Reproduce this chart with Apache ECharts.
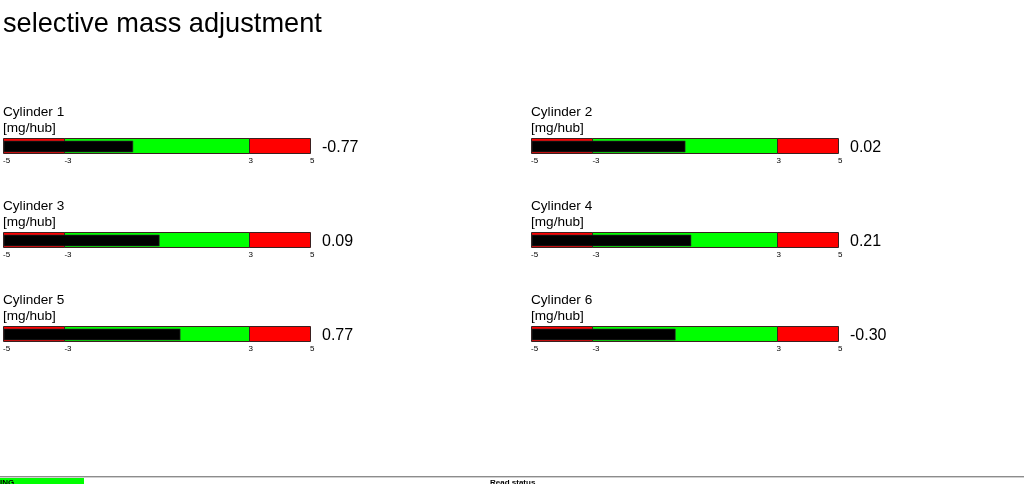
<!DOCTYPE html>
<html>
<head>
<meta charset="utf-8">
<script src="https://cdn.jsdelivr.net/npm/echarts@6/dist/echarts.min.js"></script>
<style>
html,body{margin:0;padding:0;background:#fff;}
#chart{width:1024px;height:484px;}
</style>
</head>
<body>
<div id="chart"></div>
<script>
// ---- data ----
const titleText = 'selective mass adjustment';
const cylinderNames = ['Cylinder 1', 'Cylinder 2', 'Cylinder 3', 'Cylinder 4', 'Cylinder 5', 'Cylinder 6'];
const unitText = '[mg/hub]';
const values = [-0.77, 0.02, 0.09, 0.21, 0.77, -0.30];
const zoneStart = [-5, -3, 3];
const zoneEnd = [-3, 3, 5];
const tickValues = [-5, -3, 3, 5];
const axisMin = -5;
const axisMax = 5;
const statusLeft = 'ING';
const statusCenter = 'Read status';

// ---- styles / layout ----
const FONT = '"Liberation Sans", Arial, sans-serif';
const zoneColors = ['#ff0000', '#00ff00', '#ff0000'];
const colLeft = [3, 531];
const rowTop = [138, 232, 326];
const gaugeW = 307, gaugeH = 16;

const grids = [], xAxes = [], yAxes = [], series = [], graphics = [];

graphics.push({type:'text', left: 3, top: 11, style:{text: titleText, font: '27.2px ' + FONT, fill:'#000'}});

cylinderNames.forEach((name, i) => {
  const col = i % 2, row = Math.floor(i / 2);
  const left = colLeft[col], top = rowTop[row];
  grids.push({left: left, top: top, width: gaugeW, height: gaugeH, containLabel:false, outerBoundsMode:'none'});
  xAxes.push({
    type:'value', gridIndex:i, min: axisMin, max: axisMax, interval: 1,
    axisLine:{show:false}, axisTick:{show:false}, splitLine:{show:false},
    axisLabel:{
      show:true, fontSize:8, fontFamily: FONT, color:'#000', margin:3, align:'left',
      showMinLabel:true, showMaxLabel:true, hideOverlap:false,
      formatter: v => tickValues.indexOf(v) >= 0 ? String(v) : ''
    }
  });
  yAxes.push({type:'category', gridIndex:i, data:['g'], show:false});

  series.push({
    type:'custom', xAxisIndex:i, yAxisIndex:i, z:1, silent:true,
    encode:{x:[0,1], y:2},
    data: zoneStart.map((s, k) => [s, zoneEnd[k], 0]),
    renderItem: (params, api) => {
      const s = api.coord([api.value(0), 0]);
      const e = api.coord([api.value(1), 0]);
      const h = api.size([0, 1])[1];
      const x0 = Math.round(s[0]) + 0.5, x1 = Math.round(e[0]) + 0.5;
      const y0 = Math.round(s[1] - h / 2) + 0.5;
      return {type:'rect', shape:{x:x0, y:y0, width:x1 - x0, height:Math.round(h) - 1},
        style:{fill: zoneColors[params.dataIndex], stroke:'#3a2020', lineWidth:1}};
    }
  });
  series.push({
    type:'custom', xAxisIndex:i, yAxisIndex:i, z:2, silent:true,
    encode:{x:[0,1], y:2},
    data: [[axisMin, values[i], 0]],
    renderItem: (params, api) => {
      const s = api.coord([api.value(0), 0]);
      const e = api.coord([api.value(1), 0]);
      const h = api.size([0, 1])[1];
      const y0 = Math.round(s[1] - h / 2) + 3;
      return {type:'rect', shape:{x:Math.round(s[0]) + 1, y:y0, width:e[0] - Math.round(s[0]) - 1, height:11},
        style:{fill:'#000', stroke:'#333', lineWidth:0.6}};
    }
  });

  graphics.push({type:'text', left: left, top: top - 33, style:{text: name, font: '13.6px ' + FONT, fill:'#000'}});
  graphics.push({type:'text', left: left, top: top - 17, style:{text: unitText, font: '13.6px ' + FONT, fill:'#000'}});
  graphics.push({type:'text', left: left + gaugeW + 12, top: top + 2, style:{text: values[i].toFixed(2), font: '16px ' + FONT, fill:'#000'}});
});

// status bar
graphics.push({type:'rect', left:0, top:476, shape:{width:1024, height:1}, style:{fill:'#8c8c8c'}});
graphics.push({type:'rect', left:0, top:477, shape:{width:1024, height:1}, style:{fill:'#d0d0d0'}});
graphics.push({type:'rect', left:0, top:478, shape:{width:84, height:6}, style:{fill:'#00ff00'}});
graphics.push({type:'text', left:0, top:479, style:{text: statusLeft, font:'bold 8px ' + FONT, fill:'#000'}});
graphics.push({type:'text', left:490, top:479, style:{text: statusCenter, font:'bold 8px ' + FONT, fill:'#000'}});

const chart = echarts.init(document.getElementById('chart'), null, {renderer:'canvas'});
chart.setOption({
  animation:false,
  backgroundColor:'#fff',
  grid: grids, xAxis: xAxes, yAxis: yAxes, series: series, graphic: graphics
});
</script>
</body>
</html>
